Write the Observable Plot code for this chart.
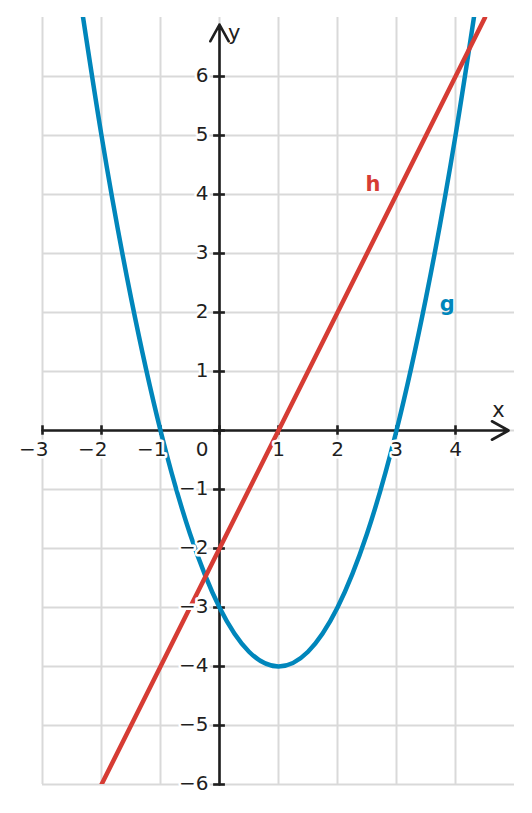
<!DOCTYPE html>
<html>
<head>
<meta charset="utf-8">
<script src="https://cdn.jsdelivr.net/npm/d3@7"></script>
<script src="https://cdn.jsdelivr.net/npm/@observablehq/plot@0.6"></script>
<style>
  html, body { margin: 0; padding: 0; background: #fff; }
  #chart svg { display: block; }
</style>
</head>
<body>
<div id="chart"></div>
<script>
// Data
const gX = [-2.5, -2, -1.5, -1, -0.5, 0, 0.5, 1, 1.5, 2, 2.5, 3, 3.5, 4, 4.5];
const gY = [8.25, 5, 2.25, 0, -1.75, -3, -3.75, -4, -3.75, -3, -1.75, 0, 2.25, 5, 8.25];
const hX = [-2, 4.5];
const hY = [-6, 7];
const xTicks = [-3, -2, -1, 1, 2, 3, 4];
const yTicks = [-6, -5, -4, -3, -2, -1, 1, 2, 3, 4, 5, 6];
const xGrid = [-3, -2, -1, 0, 1, 2, 3, 4];
const yGrid = [-6, -5, -4, -3, -2, -1, 0, 1, 2, 3, 4, 5, 6];
const xDomain = [-3, 5];
const yDomain = [-6, 7];
const xAxisEnd = 4.9;
const yAxisEnd = 6.88;
const curveLabels = [
  {name: "h", x: 2.6, y: 4.17, color: "#d63c34"},
  {name: "g", x: 3.86, y: 2.14, color: "#0086bb"}
];
const axisNames = [
  {name: "x", x: 4.73, y: 0.34},
  {name: "y", x: 0.25, y: 6.73}
];

const gData = gX.map((x, i) => ({x, y: gY[i]}));
const hData = hX.map((x, i) => ({x, y: hY[i]}));
const axes = [
  {x1: xDomain[0], y1: 0, x2: xAxisEnd, y2: 0},
  {x1: 0, y1: yDomain[0], x2: 0, y2: yAxisEnd}
];
const ink = "#1f1f1f";
const font = "DejaVu Sans";

const chart = Plot.plot({
  width: 532,
  height: 813,
  marginLeft: 42,
  marginRight: 18,
  marginTop: 17,
  marginBottom: 29,
  style: {fontFamily: font, background: "white"},
  x: {domain: xDomain, axis: null},
  y: {domain: yDomain, axis: null},
  marks: [
    Plot.ruleX(xGrid, {x: d => d, y1: yDomain[0], y2: yDomain[1], stroke: "#d9d9d9", strokeWidth: 2}),
    Plot.ruleY(yGrid, {y: d => d, x1: xDomain[0], x2: xDomain[1], stroke: "#d9d9d9", strokeWidth: 2}),
    Plot.arrow(axes, {x1: "x1", y1: "y1", x2: "x2", y2: "y2", stroke: ink, strokeWidth: 2.6, headLength: 11, headAngle: 58}),
    Plot.ruleX([...xTicks, 0], {x: d => d, y1: -0.08, y2: 0.08, stroke: ink, strokeWidth: 2.6}),
    Plot.ruleY([...yTicks, 0], {y: d => d, x1: -0.1, x2: 0.1, stroke: ink, strokeWidth: 2.6}),
    Plot.line(gData, {x: "x", y: "y", curve: "natural", stroke: "#0086bb", strokeWidth: 4.5, clip: true}),
    Plot.line(hData, {x: "x", y: "y", stroke: "#d63c34", strokeWidth: 4.5, clip: true}),
    Plot.text(xTicks.filter(d => d < 0), {x: d => d, y: 0, text: d => "\u2212" + Math.abs(d), textAnchor: "end", dx: 6, dy: 19, fontSize: 20, fill: ink, stroke: "white", strokeWidth: 5}),
    Plot.text(xTicks.filter(d => d > 0), {x: d => d, y: 0, text: d => String(d), textAnchor: "middle", dy: 19, fontSize: 20, fill: ink, stroke: "white", strokeWidth: 5}),
    Plot.text([0], {x: 0, y: 0, text: d => String(d), textAnchor: "end", dx: -11, dy: 19, fontSize: 20, fill: ink, stroke: "white", strokeWidth: 5}),
    Plot.text(yTicks, {x: 0, y: d => d, text: d => (d < 0 ? "\u2212" : "") + Math.abs(d), textAnchor: "end", dx: -11, dy: -1, fontSize: 20, fill: ink, stroke: "white", strokeWidth: 5}),
    Plot.text(axisNames, {x: "x", y: "y", text: "name", fontSize: 21, fill: ink}),
    Plot.text(curveLabels, {x: "x", y: "y", text: "name", fill: "color", fontSize: 21, fontWeight: "bold"})
  ]
});
document.getElementById("chart").appendChild(chart);
</script>
</body>
</html>
